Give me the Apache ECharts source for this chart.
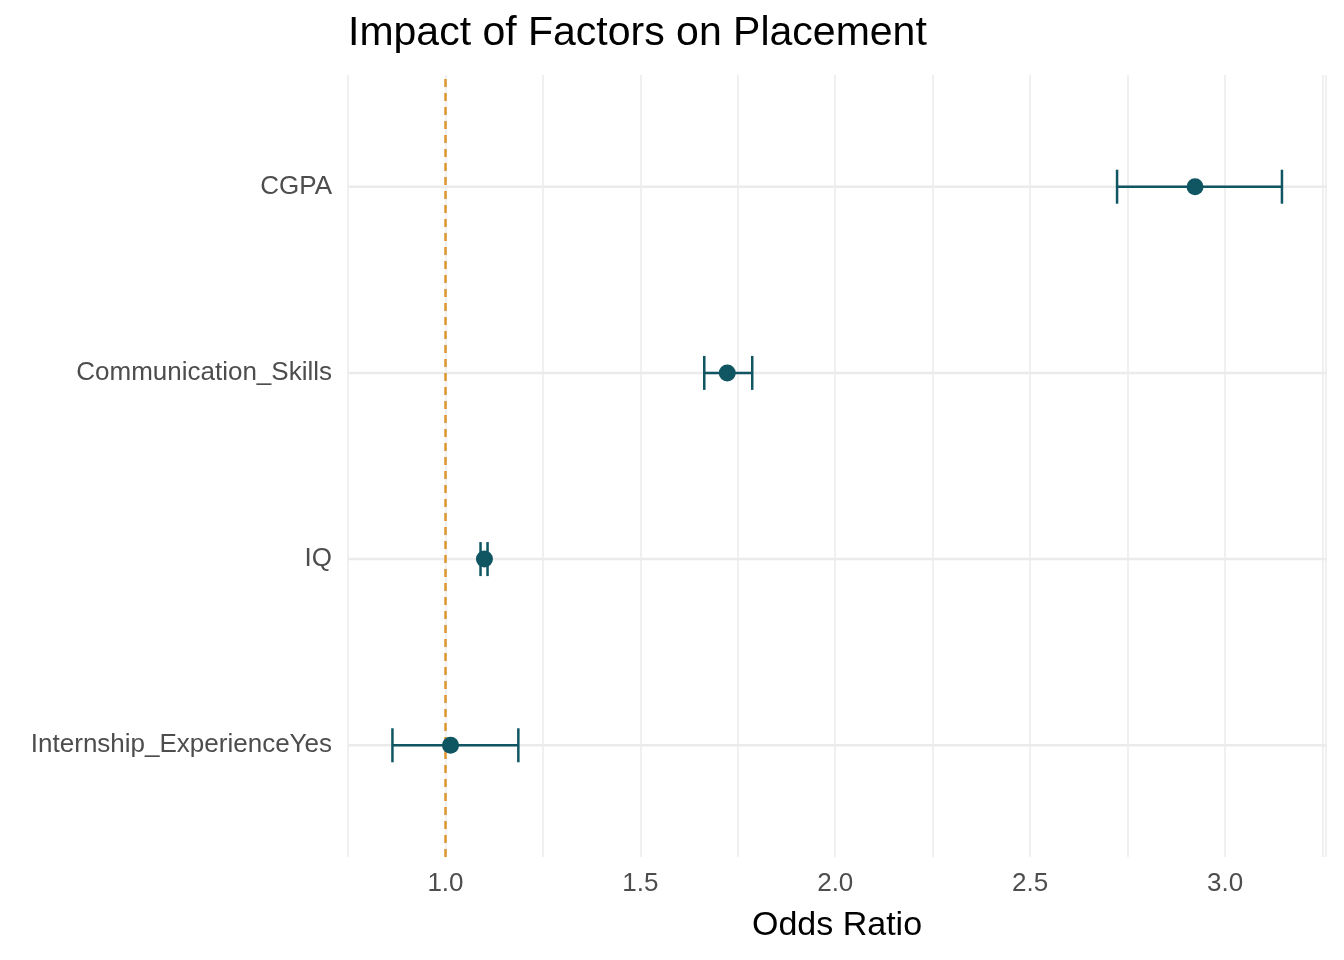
<!DOCTYPE html>
<html>
<head>
<meta charset="utf-8">
<script src="https://cdn.jsdelivr.net/npm/echarts@6/dist/echarts.min.js"></script>
<style>html,body{margin:0;background:#fff}#c{width:1344px;height:960px}</style>
</head>
<body>
<div id="c"></div>
<script>
// factors, bottom to top
const factors = ['Internship_ExperienceYes', 'IQ', 'Communication_Skills', 'CGPA'];
const oddsRatio = [1.013, 1.10, 1.723, 2.923];
const ciLow = [0.864, 1.09, 1.664, 2.723];
const ciHigh = [1.187, 1.108, 1.787, 3.146];
const xTicks = [1.0, 1.5, 2.0, 2.5, 3.0];

const col = '#0f5562';
const chart = echarts.init(document.getElementById('c'));
const barData = factors.map((f, i) => [ciLow[i], ciHigh[i], i + 1]);
const ptData = factors.map((f, i) => [oddsRatio[i], i + 1]);

chart.setOption({
  animation: false,
  title: {
    text: 'Impact of Factors on Placement',
    left: 343, top: 8,
    textStyle: {fontFamily: 'Liberation Sans', fontSize: 41, fontWeight: 'normal', color: '#000'}
  },
  grid: {left: 348, right: 18, top: 75, bottom: 103},
  xAxis: {
    type: 'value', min: 0.75, max: 3.259, interval: 0.25,
    name: 'Odds Ratio', nameLocation: 'middle', nameGap: 52,
    nameTextStyle: {fontFamily: 'Liberation Sans', fontSize: 34, color: '#000'},
    axisLine: {show: false}, axisTick: {show: false},
    axisLabel: {
      fontFamily: 'Liberation Sans', fontSize: 26, color: '#4d4d4d', margin: 14,
      formatter: v => xTicks.some(t => Math.abs(t - v) < 1e-6) ? v.toFixed(1) : ''
    },
    splitLine: {lineStyle: {color: '#ebebeb', width: 1.5}}
  },
  yAxis: {
    type: 'value', min: 0.4, max: 4.6, interval: 1,
    axisLine: {show: false}, axisTick: {show: false},
    axisLabel: {
      fontFamily: 'Liberation Sans', fontSize: 26, color: '#4d4d4d', margin: 16,
      customValues: [1, 2, 3, 4],
      formatter: v => factors[Math.round(v) - 1] || ''
    },
    splitLine: {show: false}
  },
  series: [{
    type: 'custom',
    data: barData,
    encode: {x: [0, 1], y: 2},
    clip: false,
    renderItem: (params, api) => {
      const a = api.coord([api.value(0), api.value(2)]);
      const b = api.coord([api.value(1), api.value(2)]);
      const h = 17;
      const st = {stroke: col, lineWidth: 2.5, opacity: 1};
      const gl = params.coordSys;
      return {type: 'group', children: [
        {type: 'line', z2: 0, shape: {x1: gl.x, y1: a[1], x2: gl.x + gl.width, y2: a[1]},
          style: {stroke: '#ebebeb', lineWidth: 2.5}},
        {type: 'line', z2: 1, shape: {x1: a[0], y1: a[1], x2: b[0], y2: b[1]}, style: st},
        {type: 'line', z2: 1, shape: {x1: a[0], y1: a[1] - h, x2: a[0], y2: a[1] + h}, style: st},
        {type: 'line', z2: 1, shape: {x1: b[0], y1: b[1] - h, x2: b[0], y2: b[1] + h}, style: st}
      ]};
    },
    z: 2
  }, {
    type: 'scatter',
    data: ptData,
    symbolSize: 17,
    itemStyle: {color: col, opacity: 1},
    z: 5,
    markLine: {
      silent: true, symbol: 'none', label: {show: false},
      lineStyle: {color: '#e0962e', type: [8, 6], width: 2.5, opacity: 1},
      data: [{xAxis: 1}]
    }
  }]
});
</script>
</body>
</html>
